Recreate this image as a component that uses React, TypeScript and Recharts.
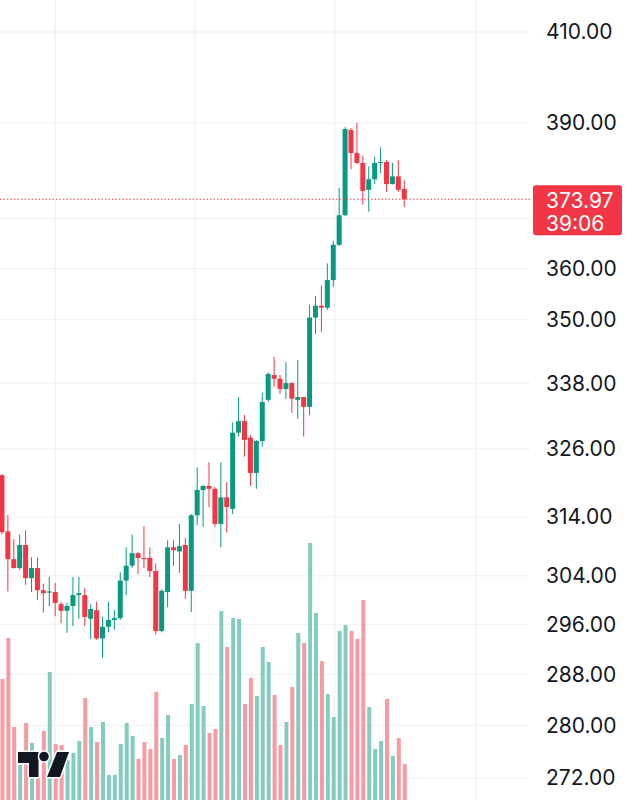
import { ComposedChart, Bar, XAxis, YAxis, CartesianGrid, ReferenceLine } from 'recharts'

// candles, one per bar
const open = [321.3, 311.5, 306.8, 305.3, 309.2, 303.6, 305.3, 301.6, 301.2, 301.3, 299.3, 298.2, 299.0, 300.8, 300.8, 296.9, 298.3, 293.7, 295.6, 296.7, 297.0, 303.2, 305.7, 307.8, 307.0, 307.0, 304.8, 294.9, 301.3, 308.8, 308.1, 309.2, 301.5, 314.3, 318.7, 319.4, 318.9, 312.8, 317.4, 315.4, 328.9, 331.0, 328.0, 321.7, 327.4, 334.9, 339.5, 338.8, 336.9, 338.0, 334.9, 335.4, 333.6, 350.4, 352.7, 352.3, 357.7, 364.7, 370.7, 388.5, 383.6, 381.5, 375.9, 378.1, 381.5, 381.7, 377.1, 378.7, 376.1]
const high = [321.5, 314.3, 310.2, 311.0, 311.7, 307.1, 307.1, 302.7, 303.8, 302.8, 299.7, 299.5, 303.8, 303.8, 302.0, 299.3, 299.7, 297.2, 299.7, 298.3, 304.6, 308.8, 311.0, 308.0, 312.4, 308.8, 306.1, 301.8, 310.0, 310.0, 312.8, 310.4, 314.5, 322.7, 319.6, 323.6, 319.2, 323.6, 320.1, 330.8, 335.4, 332.1, 328.5, 327.6, 336.2, 340.0, 342.9, 339.5, 341.9, 338.2, 342.3, 335.5, 352.9, 354.6, 356.6, 361.0, 365.5, 376.3, 389.1, 388.9, 390.0, 383.0, 380.8, 382.8, 384.8, 382.1, 381.5, 382.1, 377.9]
const low = [311.0, 301.4, 305.2, 305.0, 302.5, 301.3, 300.0, 297.9, 299.0, 297.3, 296.2, 294.6, 295.7, 296.9, 295.7, 293.6, 293.5, 290.6, 294.7, 295.1, 296.7, 300.8, 305.3, 304.3, 305.3, 303.8, 294.3, 294.7, 298.8, 305.7, 304.5, 300.2, 298.0, 312.6, 312.3, 315.7, 312.3, 308.8, 311.3, 314.5, 328.2, 324.6, 319.4, 318.9, 326.4, 334.5, 337.3, 336.0, 335.1, 332.5, 331.4, 328.2, 332.1, 347.2, 347.6, 351.9, 356.4, 364.5, 370.5, 380.2, 381.3, 372.8, 371.4, 377.1, 379.4, 375.5, 377.0, 375.5, 372.4]
const close = [311.4, 306.8, 305.3, 309.2, 303.6, 305.3, 301.6, 301.1, 301.4, 299.5, 298.2, 299.0, 300.8, 301.1, 297.2, 298.5, 293.7, 295.6, 296.7, 297.0, 303.2, 305.7, 307.8, 307.0, 306.8, 304.8, 294.9, 301.5, 308.8, 308.3, 309.0, 301.5, 314.3, 318.7, 319.4, 318.9, 312.8, 317.4, 315.7, 328.9, 331.0, 327.6, 321.7, 327.4, 334.5, 339.7, 338.8, 336.9, 338.0, 335.1, 335.4, 333.6, 350.4, 352.7, 352.3, 357.7, 364.7, 370.7, 388.7, 383.6, 381.5, 375.7, 378.1, 381.5, 381.7, 377.1, 378.7, 375.9, 373.97]
const volume = [1210, 1620, 730, 350, 770, 570, 480, 690, 1280, 560, 550, 400, 470, 590, 1020, 730, 580, 780, 250, 250, 560, 770, 640, 410, 580, 510, 1080, 620, 850, 410, 450, 550, 960, 1570, 940, 670, 710, 1890, 1530, 1820, 1810, 960, 1220, 1040, 1530, 1380, 1050, 550, 780, 1130, 1670, 1570, 2570, 1870, 1390, 1060, 830, 1690, 1750, 1690, 1610, 2000, 930, 510, 590, 1010, 440, 620, 360]

const priceLabels = [410, 390, 360, 350, 338, 326, 314, 304, 296, 288, 280, 272]
const gridPrices = [410, 390, 370, 360, 350, 338, 326, 314, 304, 296, 288, 280, 272]
const timeLines = [8.94, 32.5, 56.2, 80]
const lastPrice = 373.97
const countdown = '39:06'

const UP = '#089981'
const DOWN = '#F23645'
const UP_VOL = '#84CCC0'
const DOWN_VOL = '#F79AA2'
const GRID = '#EEEFF2'
const FONT = 'Inter, "Noto Sans", sans-serif'

const rows = open.map((o, i) => ({
  i,
  wick: [low[i], high[i]],
  body: [Math.min(o, close[i]), Math.max(o, close[i])],
  vol: volume[i],
  up: close[i] >= o,
}))

function Wick(p: any) {
  return <rect x={p.x + p.width / 2 - 0.5} y={p.y} width={1} height={Math.max(1, p.height)} fill={p.payload.up ? UP : DOWN} />
}

function Body(p: any) {
  return <rect x={p.x} y={p.y} width={p.width} height={Math.max(1, p.height)} fill={p.payload.up ? UP : DOWN} />
}

function VolBar(p: any) {
  return <rect x={p.x} y={p.y} width={p.width} height={Math.max(0, p.height)} fill={p.payload.up ? UP_VOL : DOWN_VOL} />
}

function PriceTag(props: any) {
  const vb = props.viewBox
  const x = vb.x + vb.width + 3
  const y = vb.y
  return (
    <g>
      <rect x={x} y={y - 14} width={89} height={50} rx={3} fill={DOWN} />
      <text x={x + 13} y={y + 1} fill="#fff" fontSize={21} fontFamily={FONT} dominantBaseline="central">{lastPrice.toFixed(2)}</text>
      <text x={x + 13} y={y + 24} fill="#fff" fontSize={21} fontFamily={FONT} dominantBaseline="central">{countdown}</text>
    </g>
  )
}

function Logo() {
  return (
    <svg width={628} height={800} style={{ position: 'absolute', left: 0, top: 0, pointerEvents: 'none' }}>
      <g fill="#131722" stroke="#fff" strokeWidth={3} strokeLinejoin="round" style={{ paintOrder: 'stroke' }}>
        <path d="M18 752 H38.5 V777 H29 V763 H18 Z" />
        <circle cx={44} cy={756.5} r={4.8} />
        <path d="M57 752 H69 L60 777 H47 Z" />
      </g>
    </svg>
  )
}

export default function App() {
  const xDomain = [-0.406, 89.18]
  return (
    <div style={{ position: 'relative', width: 628, height: 800, background: '#fff' }}>
      <style>{`body{margin:0}`}</style>
      <ComposedChart width={628} height={800} data={rows} margin={{ top: 0, right: 0, bottom: 0, left: 0 }}>
        <XAxis xAxisId="w" type="number" dataKey="i" domain={xDomain} allowDataOverflow hide />
        <XAxis xAxisId="b" type="number" dataKey="i" domain={xDomain} allowDataOverflow hide />
        <XAxis xAxisId="v" type="number" dataKey="i" domain={xDomain} allowDataOverflow hide />
        <YAxis
          yAxisId="p"
          orientation="right"
          scale="log"
          domain={[268.73, 417.28]}
          allowDataOverflow
          ticks={priceLabels}
          interval={0}
          tickFormatter={(v: number) => v.toFixed(2)}
          width={98}
          axisLine={false}
          tickLine={false}
          tickSize={0}
          tickMargin={16}
          tick={{ fill: '#131722', fontSize: 21, fontFamily: FONT }}
        />
        <YAxis yAxisId="v" domain={[0, 8000]} hide />
        <CartesianGrid xAxisId="w" yAxisId="p" stroke={GRID} horizontalValues={gridPrices} verticalValues={timeLines} />
        <Bar xAxisId="v" yAxisId="v" dataKey="vol" barSize={4} shape={VolBar} isAnimationActive={false} />
        <Bar xAxisId="w" yAxisId="p" dataKey="wick" barSize={5} shape={Wick} isAnimationActive={false} />
        <Bar xAxisId="b" yAxisId="p" dataKey="body" barSize={5} shape={Body} isAnimationActive={false} />
        <ReferenceLine xAxisId="w" yAxisId="p" y={lastPrice} stroke={DOWN} strokeDasharray="1.5 2" label={(p: any) => <PriceTag {...p} />} />
      </ComposedChart>
      <Logo />
    </div>
  )
}
